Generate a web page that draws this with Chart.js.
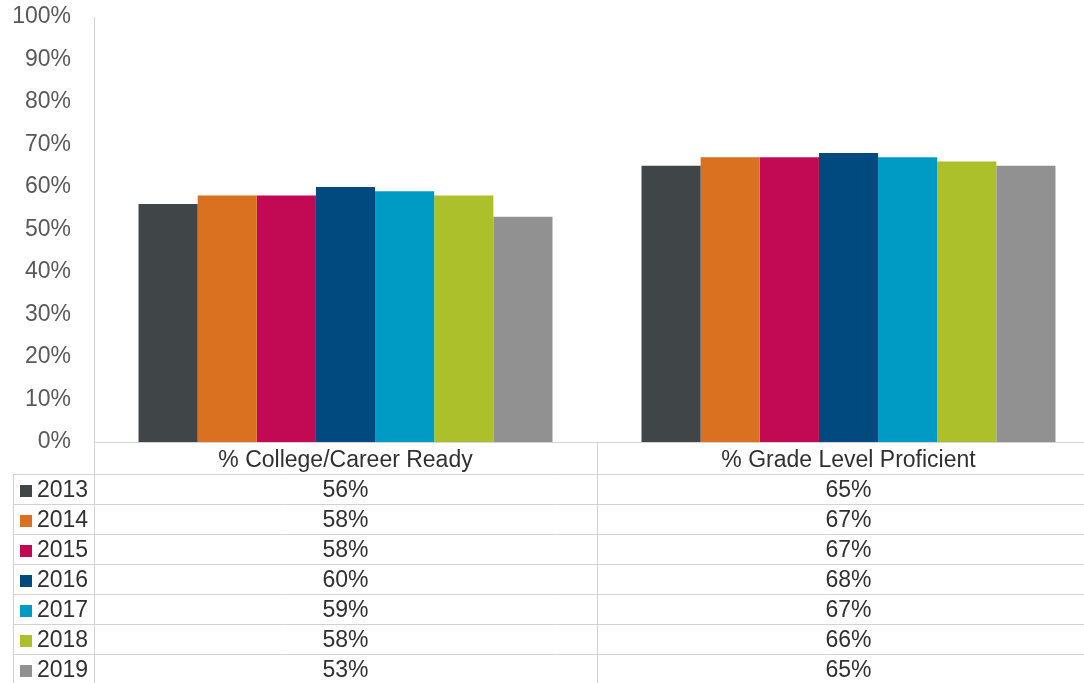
<!DOCTYPE html>
<html>
<head>
<meta charset="utf-8">
<script src="https://cdn.jsdelivr.net/npm/chart.js@4/dist/chart.umd.min.js"></script>
<style>
  html, body { margin: 0; padding: 0; background: #fff; overflow: hidden; }
  #wrap { width: 1084px; height: 683px; overflow: hidden; position: relative; }
  canvas { display: block; }
</style>
</head>
<body>
<div id="wrap"><canvas id="c" width="1100" height="683" style="width:1100px;height:683px"></canvas></div>
<script>
const categories = ['% College/Career Ready', '% Grade Level Proficient'];
const years = ['2013', '2014', '2015', '2016', '2017', '2018', '2019'];
const collegeCareerReady = [56, 58, 58, 60, 59, 58, 53];
const gradeLevelProficient = [65, 67, 67, 68, 67, 66, 65];
const yearColors = ['#404547', '#D97121', '#C20A54', '#004A80', '#009BC4', '#ABC02A', '#919191'];
const yTicks = [0, 10, 20, 30, 40, 50, 60, 70, 80, 90, 100];

const FONT = '"Liberation Sans", Arial, sans-serif';
const LINE = '#d3d3d3';
const TEXT = '#303030';

const datasets = years.map((y, i) => ({
  label: y,
  data: [collegeCareerReady[i], gradeLevelProficient[i]],
  backgroundColor: yearColors[i],
  borderWidth: 0
}));

const tablePlugin = {
  id: 'dataTable',
  afterDraw(chart) {
    const ctx = chart.ctx;
    const x = chart.scales.x;
    const area = chart.chartArea;
    const n = categories.length;
    const catW = (area.right - area.left) / n;
    const headerTop = area.bottom;
    const headerH = 32;
    const rowH = 30;
    const tableLeft = 13;
    const rowsTop = headerTop + headerH;
    const bottom = chart.height;
    ctx.save();
    ctx.strokeStyle = LINE;
    ctx.lineWidth = 1;
    ctx.beginPath();
    ctx.moveTo(area.left + 0.5, area.top);
    ctx.lineTo(area.left + 0.5, bottom);
    ctx.moveTo(area.left, headerTop + 0.5);
    ctx.lineTo(area.right, headerTop + 0.5);
    for (let k = 1; k <= n; k++) {
      const xx = Math.round(area.left + k * catW) + 0.5;
      ctx.moveTo(xx, headerTop);
      ctx.lineTo(xx, bottom);
    }
    ctx.moveTo(tableLeft + 0.5, rowsTop);
    ctx.lineTo(tableLeft + 0.5, bottom);
    for (let r = 0; r < years.length; r++) {
      const yy = Math.round(rowsTop + r * rowH) + 0.5;
      ctx.moveTo(tableLeft, yy);
      ctx.lineTo(area.right, yy);
    }
    ctx.stroke();

    ctx.font = '23px ' + FONT;
    ctx.fillStyle = TEXT;
    ctx.textBaseline = 'middle';
    ctx.textAlign = 'center';
    categories.forEach((c, j) => {
      ctx.fillText(c, x.getPixelForValue(j), headerTop + headerH / 2 + 3);
    });
    years.forEach((y, i) => {
      const cy = rowsTop + i * rowH + rowH / 2 + 2;
      ctx.fillStyle = yearColors[i];
      ctx.fillRect(20, cy - 6, 12, 12);
      ctx.fillStyle = TEXT;
      ctx.textAlign = 'left';
      ctx.fillText(y, 37, cy);
      ctx.textAlign = 'center';
      chart.data.datasets[i].data.forEach((v, j) => {
        ctx.fillText(v + '%', x.getPixelForValue(j), cy);
      });
    });
    ctx.restore();
  }
};

new Chart(document.getElementById('c'), {
  type: 'bar',
  data: { labels: categories, datasets },
  options: {
    responsive: false,
    animation: false,
    devicePixelRatio: 1,
    layout: { padding: { top: 17, bottom: 241, left: 0, right: 0 } },
    plugins: { legend: { display: false }, tooltip: { enabled: false } },
    datasets: { bar: { categoryPercentage: 0.823, barPercentage: 1 } },
    scales: {
      x: { display: false },
      y: {
        min: 0, max: 100,
        afterFit(s) { s.width = 94; s.paddingTop = 0; s.paddingBottom = 0; },
        afterBuildTicks(s) { s.ticks = yTicks.map(v => ({ value: v })); },
        grid: { display: false, drawTicks: false },
        border: { display: false },
        ticks: {
          padding: 23,
          color: '#595959',
          font: { family: FONT, size: 23 },
          callback: v => v + '%'
        }
      }
    }
  },
  plugins: [tablePlugin]
});
</script>
</body>
</html>
